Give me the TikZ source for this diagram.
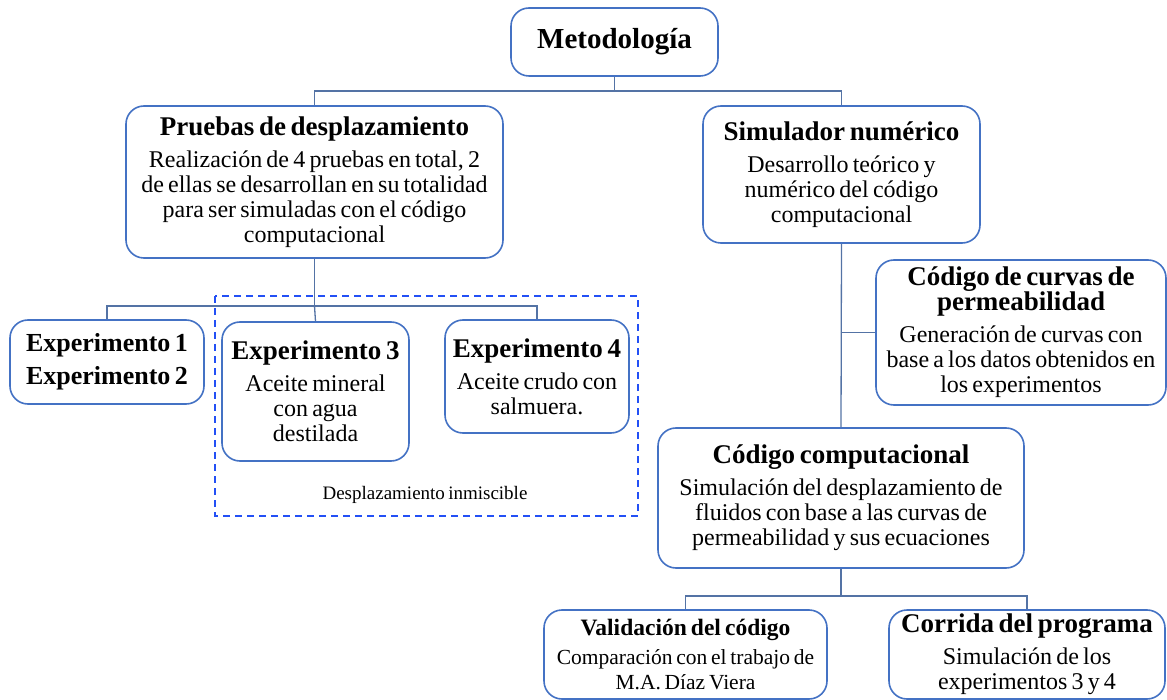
\documentclass[tikz,border=0pt]{standalone}
\usepackage{fontspec}
\setmainfont{Liberation Serif}[WordSpace=0.7]
\definecolor{cajaazul}{RGB}{68,114,196}
\definecolor{lineazul}{RGB}{84,115,165}
\definecolor{marcoazul}{RGB}{35,80,245}
\newcommand{\titulo}[1]{{\fontsize{27}{25}\selectfont\bfseries #1}\\[7pt]}
\newcommand{\negrita}[1]{{\fontsize{27}{25}\selectfont\bfseries #1}}
\begin{document}
\begin{tikzpicture}[x=1pt, y=-1pt,
    caja/.style = {draw=cajaazul, line width=1.6pt, rounded corners=18pt, fill=white, align=center, inner sep=2pt, font=\fontsize{24}{25}\selectfont},
    conector/.style = {draw=lineazul, line width=1.3pt}]
    \useasboundingbox (0,0) rectangle (1167,700);
    \draw[marcoazul, line width=1.8pt, dash pattern=on 7pt off 5pt] (215,296) rectangle (638,516);
    \node[caja, minimum width=207pt, minimum height=68pt, font=\fontsize{29}{30}\selectfont\bfseries] (meto) at (614.5,42) {Metodología};
    \node[caja, minimum width=377pt, minimum height=152pt] (pruebas) at (314.5,182) {\titulo{Pruebas de desplazamiento}Realización de 4 pruebas en total, 2\\ de ellas se desarrollan en su totalidad\\ para ser simuladas con el código\\ computacional};
    \node[caja, minimum width=277pt, minimum height=137pt] (simul) at (841.5,174.5) {\titulo{Simulador numérico}Desarrollo teórico y\\ numérico del código\\ computacional};
    \node[caja, minimum width=194pt, minimum height=84pt, font=\fontsize{26}{25}\selectfont\bfseries] (exp12) at (107,362) {Experimento 1\\[8pt] Experimento 2};
    \node[caja, minimum width=187pt, minimum height=139pt] (exp3) at (315.5,391.5) {\titulo{Experimento 3}Aceite mineral\\ con agua\\ destilada};
    \node[caja, minimum width=184pt, minimum height=113pt] (exp4) at (537,376.5) {\titulo{Experimento 4}Aceite crudo con\\ salmuera.};
    \node[font=\fontsize{19}{22}\selectfont] (inmis) at (425,495) {Desplazamiento inmiscible};
    \node[caja, minimum width=290pt, minimum height=145pt] (curvas) at (1021,332.5) {\negrita{Código de curvas de}\\ \titulo{permeabilidad}Generación de curvas con\\ base a los datos obtenidos en\\ los experimentos};
    \node[caja, minimum width=366pt, minimum height=140pt] (compu) at (841,498) {\titulo{Código computacional}Simulación del desplazamiento de\\ fluidos con base a las curvas de\\ permeabilidad y sus ecuaciones};
    \node[caja, minimum width=283pt, minimum height=89pt, font=\fontsize{21.5}{25}\selectfont] (valid) at (685.5,654.5) {{\fontsize{23.5}{25}\selectfont\bfseries Validación del código}\\[4pt]Comparación con el trabajo de\\ M.A. Díaz Viera};
    \node[caja, minimum width=276pt, minimum height=89pt] (corrida) at (1027,654.5) {\titulo{Corrida del programa}Simulación de los\\ experimentos 3 y 4};
    \coordinate (j1) at (614.5,91);
    \coordinate (j2) at (314.5,306);
    \coordinate (j3) at (841,596);
    \draw[conector] (meto.south) -- (j1) -| (pruebas.north);
    \draw[conector] (j1) -| (simul.north);
    \draw[conector] (pruebas.south) -- (j2) -| (exp12.north);
    \draw[conector] (j2) -- (exp3.north);
    \draw[conector] (j2) -| (exp4.north);
    \draw[conector] (simul.south) -- (compu.north);
    \draw[conector] (simul.south |- curvas.west) -- (curvas.west);
    \draw[conector] (compu.south) -- (j3) -| (valid.north);
    \draw[conector] (j3) -| (corrida.north);
\end{tikzpicture}
\end{document}
